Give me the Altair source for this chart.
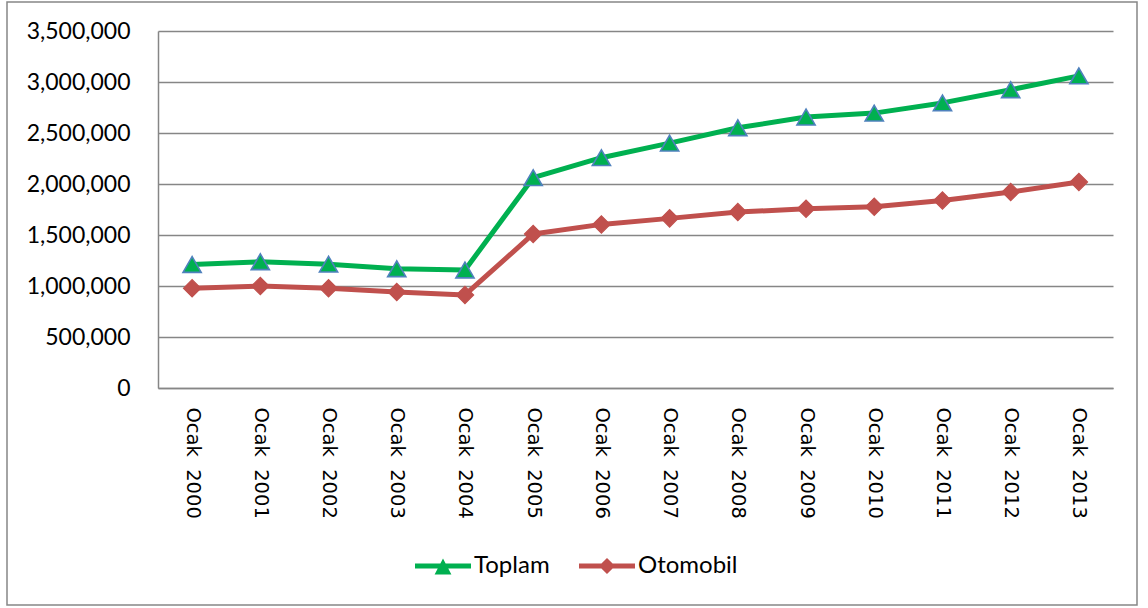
import altair as alt
import pandas as pd

# Ocak (January) figures per year
categories = [
    "Ocak 2000", "Ocak 2001", "Ocak 2002", "Ocak 2003", "Ocak 2004",
    "Ocak 2005", "Ocak 2006", "Ocak 2007", "Ocak 2008", "Ocak 2009",
    "Ocak 2010", "Ocak 2011", "Ocak 2012", "Ocak 2013",
]
toplam = [
    1211000, 1238000, 1214000, 1169000, 1157000,
    2062000, 2258000, 2401000, 2551000, 2656000,
    2695000, 2795000, 2924000, 3060000,
]
otomobil = [
    977000, 1000000, 977000, 941000, 912000,
    1510000, 1604000, 1663000, 1725000, 1757000,
    1777000, 1839000, 1921000, 2020000,
]
y_ticks = [0, 500000, 1000000, 1500000, 2000000, 2500000, 3000000, 3500000]

series_names = ["Toplam", "Otomobil"]
series_colors = ["#00B050", "#C0504D"]
marker_blue = "#4F81BD"
grid_gray = "#868686"

rows = []
for cat, t, o in zip(categories, toplam, otomobil):
    rows.append({"donem": cat, "seri": "Toplam", "deger": t})
    rows.append({"donem": cat, "seri": "Otomobil", "deger": o})
df = pd.DataFrame(rows)

# legend glyphs: a line segment with the series marker on it (unit box -1..1)
legend_paths = [
    "M-1,-0.09 L1,-0.09 L1,0.09 L-1,0.09 Z M0,-0.27 L0.3,0.3 L-0.3,0.3 Z",
    "M-1,-0.09 L1,-0.09 L1,0.09 L-1,0.09 Z M0,-0.29 L0.29,0 L0,0.29 L-0.29,0 Z",
]

W, H = 955, 357

x_enc = alt.X(
    "donem:N",
    sort=categories,
    scale=alt.Scale(type="point", padding=0.5),
    axis=alt.Axis(
        title=None,
        labelAngle=90,
        ticks=False,
        tickSize=0,
        labelPadding=19,
        labelFont="DejaVu Sans",
        labelFontSize=19.5,
        labelColor="black",
        labelExpr="replace(datum.label, ' ', '\u00a0\u00a0')",
        domainColor=grid_gray,
        domainWidth=1.5,
        grid=False,
    ),
)
y_enc = alt.Y(
    "deger:Q",
    scale=alt.Scale(domain=[0, 3500000], nice=False, zero=True),
    axis=alt.Axis(
        title=None,
        values=y_ticks,
        format=",d",
        ticks=False,
        tickSize=0,
        labelPadding=28,
        labelFont="Lato",
        labelFontSize=23,
        labelColor="black",
        domainColor=grid_gray,
        domainWidth=1.5,
        grid=True,
        gridColor=grid_gray,
        gridWidth=1.4,
    ),
)

frame = alt.Chart(pd.DataFrame({"k": [0]})).mark_rect(
    fillOpacity=0, stroke=grid_gray, strokeWidth=1.5
).encode(
    x=alt.value(-151), x2=alt.value(979), y=alt.value(-29), y2=alt.value(574)
)


def series_layers(name, color, shape, size, stroke, stroke_width):
    base = alt.Chart(df).transform_filter(f"datum.seri == '{name}'")
    line = base.mark_line(
        strokeWidth=5, strokeJoin="round", strokeCap="round", color=color
    ).encode(x=x_enc, y=y_enc)
    marks = base.mark_point(
        shape=shape, filled=True, size=size, fill=color,
        stroke=stroke, strokeWidth=stroke_width, opacity=1,
    ).encode(x=x_enc, y=y_enc)
    return [line, marks]


toplam_layers = series_layers("Toplam", series_colors[0], "triangle-up", 330, marker_blue, 1.6)
otomobil_layers = series_layers("Otomobil", series_colors[1], "diamond", 300, series_colors[1], 1.2)

legend_def = alt.Legend(
    title=None,
    orient="none",
    legendX=257,
    legendY=507,
    direction="horizontal",
    symbolSize=3136,
    symbolStrokeWidth=0,
    symbolOffset=0,
    labelOffset=3,
    columnPadding=29,
    labelFont="Lato",
    labelFontSize=24,
    labelColor="black",
    padding=0,
)

# draws no marks of its own; it only carries the legend
legend_layer = alt.Chart(df).transform_filter("false").mark_point(
    filled=True, opacity=1, size=3136
).encode(
    fill=alt.Fill("seri:N", scale=alt.Scale(domain=series_names, range=series_colors), legend=legend_def),
    shape=alt.Shape("seri:N", scale=alt.Scale(domain=series_names, range=legend_paths), legend=legend_def),
)

chart = alt.layer(frame, *toplam_layers, *otomobil_layers, legend_layer).properties(
    width=W,
    height=H,
    padding={"left": 158, "top": 31, "right": 35, "bottom": 220},
    autosize=alt.AutoSizeParams(type="none"),
    background="white",
).configure_view(stroke="transparent")

chart.save("out.html", embed_options={"renderer": "svg", "actions": False})
